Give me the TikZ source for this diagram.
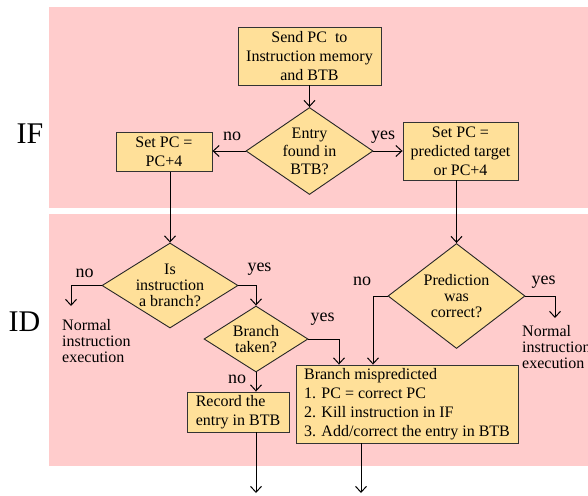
\documentclass[tikz,border=0pt]{standalone}
\usepackage{fontspec}
\setmainfont{Liberation Serif}
\usetikzlibrary{shapes.geometric,arrows.meta}
\definecolor{pinkbg}{RGB}{255,204,204}
\definecolor{boxfill}{RGB}{255,224,153}
\begin{document}
\begin{tikzpicture}[x=1pt,y=-1pt,
  box/.style={draw=black!80, fill=boxfill, line width=0.9pt, inner sep=0pt, align=center, font=\fontsize{16}{19}\selectfont},
  dia/.style={draw=black!85, fill=boxfill, diamond, line width=0.9pt, inner sep=0pt},
  dtext/.style={align=center, inner sep=0pt, font=\fontsize{16}{16}\selectfont},
  ntext/.style={anchor=north west, align=left, inner sep=0pt, font=\fontsize{16}{16}\selectfont},
  lab/.style={inner sep=0pt, font=\fontsize{18}{18}\selectfont},
  stage/.style={inner sep=0pt, font=\fontsize{30}{30}\selectfont},
  conn/.style={line width=1pt, -{Straight Barb[length=6pt,width=11pt]}},
]
\useasboundingbox (0,0) rectangle (588,495);
\fill[pinkbg] (49,7) rectangle (588,208);
\fill[pinkbg] (49,214) rectangle (588,466);

\node[stage] (IF) at (30,134) {IF};
\node[stage] (ID) at (24.5,322) {ID};

% IF stage
\node[box, minimum width=143pt, minimum height=58pt] (send) at (309.5,56) {Send PC\ \ to\\Instruction memory\\and BTB};
\node[dia, minimum width=127pt, minimum height=87pt] (entry) at (309.5,151) {};
\node[dtext, font=\fontsize{16}{18}\selectfont] (entryt) at (entry) {Entry\\found in\\BTB?};
\node[box, minimum width=96pt, minimum height=39pt] (pc4) at (164,152) {Set PC =\\PC+4};
\node[box, minimum width=115pt, minimum height=58pt] (pred) at (460.5,151) {Set PC =\\predicted target\\or PC+4};

% ID stage
\node[dia, minimum width=136pt, minimum height=85pt] (isbr) at (170,285.5) {};
\node[dtext] (isbrt) at (isbr) {Is\\instruction\\a branch?};
\node[dia, minimum width=104pt, minimum height=66pt] (brt) at (256,339) {};
\node[dtext] (brtt) at (brt) {Branch\\taken?};
\node[dia, minimum width=137pt, minimum height=105pt] (predq) at (456.5,296) {};
\node[dtext] (predqt) at (predq) {Prediction\\was\\correct?};
\node[box, align=left, minimum width=102pt, minimum height=40pt] (rec) at (238,412) {Record the\\entry in BTB};
\node[box, align=left, minimum width=222pt, minimum height=78pt] (misp) at (407,404) {Branch mispredicted\\1. PC = correct PC\\2. Kill instruction in IF\\3. Add/correct the entry in BTB};
\node[ntext] (norm1) at (62,319) {Normal\\instruction\\execution};
\node[ntext] (norm2) at (522,325) {Normal\\instruction\\execution};

\coordinate (n1) at (71,306);
\coordinate (n2) at (555,318);
\coordinate (e1) at (256,493);
\coordinate (e2) at (361,493);

% connectors
\draw[conn] (send.south) -- (entry.north);
\draw[conn] (entry.west) -- (entry.west -| pc4.east);
\draw[conn] (entry.east) -- (entry.east -| pred.west);
\draw[conn] (isbr.north |- pc4.south) -- (isbr.north);
\draw[conn] (predq.north |- pred.south) -- (predq.north);
\draw[conn] (isbr.west) -| (n1);
\draw[conn] (isbr.east) -| (brt.north);
\draw[conn] (brt.east) -| ([xshift=-68pt]misp.north);
\draw[conn] (predq.west) -| ([xshift=-34pt]misp.north);
\draw[conn] (predq.east) -| (n2);
\draw[conn] (brt.south) -- (brt.south |- rec.north);
\draw[conn] (e1 |- rec.south) -- (e1);
\draw[conn] (e2 |- misp.south) -- (e2);

% labels
\node[lab] (l1) at (232,136) {no};
\node[lab] (l2) at (383,137) {yes};
\node[lab] (l3) at (84.5,273) {no};
\node[lab] (l4) at (259.5,269) {yes};
\node[lab] (l5) at (322.5,319) {yes};
\node[lab] (l6) at (237,379) {no};
\node[lab] (l7) at (362,281) {no};
\node[lab] (l8) at (543.5,282) {yes};
\end{tikzpicture}
\end{document}
